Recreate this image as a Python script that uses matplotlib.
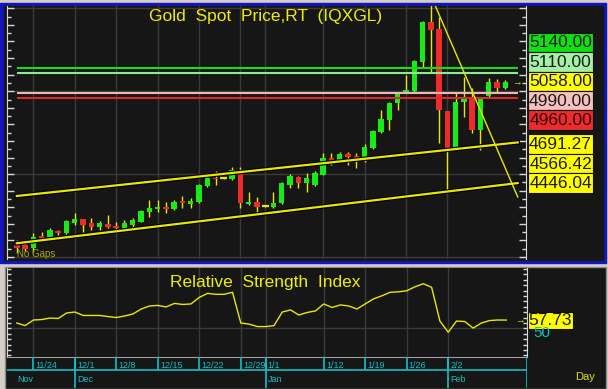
import matplotlib
matplotlib.use("Agg")
import matplotlib.pyplot as plt
from matplotlib.patches import Rectangle
from matplotlib.ticker import MultipleLocator
import matplotlib.patheffects as pe
import numpy as np
import pandas as pd

plt.rcParams['font.family'] = ['Liberation Sans', 'DejaVu Sans']

# ---------------- data ----------------
dates = pd.bdate_range("2025-11-20", periods=60)
opens = [4073, 4073, 4055, 4127, 4121, 4157, 4145, 4205, 4229, 4205,
         4181, 4199, 4187, 4175, 4193, 4211, 4272, 4290, 4302, 4290,
         4338, 4320, 4332, 4428, 4477, 4477, 4471, 4519, 4320, 4332,
         4308, 4302, 4326, 4434, 4483, 4446, 4434, 4495, 4597, 4579,
         4621, 4609, 4585, 4658, 4754, 4826, 4929, 4989, 5001, 5176,
         5417, 5375, 4881, 4658, 4935, 4965, 4766, 4971, 5056, 5019]
highs = [4103, 4085, 4145, 4151, 4175, 4163, 4223, 4266, 4232, 4235,
         4217, 4254, 4211, 4223, 4235, 4284, 4344, 4344, 4332, 4344,
         4368, 4356, 4440, 4489, 4519, 4483, 4543, 4543, 4392, 4362,
         4314, 4392, 4453, 4501, 4489, 4507, 4519, 4627, 4627, 4633,
         4633, 4627, 4682, 4766, 4887, 4935, 4989, 5098, 5188, 5423,
         5590, 5447, 4881, 4989, 5086, 5019, 4965, 5080, 5074, 5068]
lows = [4024, 4037, 4030, 4103, 4115, 4133, 4139, 4193, 4151, 4163,
        4163, 4175, 4163, 4163, 4163, 4211, 4242, 4272, 4266, 4284,
        4296, 4296, 4326, 4422, 4434, 4471, 4465, 4296, 4314, 4266,
        4302, 4296, 4320, 4416, 4416, 4392, 4428, 4495, 4555, 4573,
        4555, 4537, 4573, 4652, 4748, 4766, 4887, 4989, 4995, 5146,
        5110, 4688, 4392, 4646, 4845, 4748, 4646, 4965, 4989, 5013]
closes = [4055, 4049, 4121, 4115, 4163, 4145, 4217, 4229, 4193, 4181,
          4205, 4181, 4175, 4205, 4223, 4278, 4296, 4302, 4290, 4332,
          4326, 4338, 4434, 4477, 4471, 4477, 4525, 4326, 4332, 4302,
          4308, 4326, 4446, 4489, 4446, 4477, 4507, 4597, 4567, 4621,
          4603, 4591, 4664, 4760, 4832, 4929, 4989, 5007, 5182, 5417,
          5369, 4887, 4646, 4935, 4965, 4766, 4965, 5056, 5019, 5058]
rsi = [55.0, 52.6, 57.8, 58.2, 59.6, 59.2, 64.3, 65.2, 62.0, 62.0,
       62.0, 61.0, 60.1, 61.5, 63.4, 68.0, 70.8, 71.3, 69.9, 73.2,
       72.2, 72.7, 78.8, 82.5, 81.6, 81.6, 83.5, 55.0, 54.0, 51.7,
       51.7, 52.6, 65.2, 67.1, 62.4, 64.8, 66.2, 72.7, 69.4, 71.8,
       70.8, 68.0, 72.7, 77.4, 80.2, 83.5, 83.9, 84.9, 88.6, 91.4,
       88.1, 56.8, 46.5, 56.8, 56.4, 50.3, 55.0, 57.3, 57.8, 57.73]

level_values = [5140.00, 5110.00, 4990.00, 4960.00]
level_colors = ["#10e010", "#90e890", "#f2b6b6", "#e02828"]
label_values = [5140.00, 5110.00, 5058.00, 4990.00, 4960.00, 4691.27, 4566.42, 4446.04]
label_colors = ["#10e010", "#a4f0a4", "#ffff00", "#f6c0c0", "#ea2c2c", "#ffff00", "#ffff00", "#ffff00"]
channel_x = [0, 60.5]
channel_upper = [4368, 4691.27]
channel_lower = [4083, 4446.04]
trend_x = [50, 60.5]
trend_y = [5578, 4362]
tick_dates = ["2025-11-24", "2025-12-01", "2025-12-08", "2025-12-15", "2025-12-22",
              "2025-12-29", "2026-01-01", "2026-01-12", "2026-01-19", "2026-01-26", "2026-02-02"]
month_dates = ["2025-11-20", "2025-12-01", "2026-01-01", "2026-02-02"]
month_names = ["Nov", "Dec", "Jan", "Feb"]
rsi_ref = 50
price_grid = [4000, 4500, 5000, 5500]
title = "Gold  Spot  Price,RT  (IQXGL)"
rsi_title = "Relative  Strength  Index"

# ---------------- style ----------------
W, H = 608, 389
BLACK = "#161616"
BLUE = "#1414c0"
GRID = "#3a3a3a"
YEL = "#e8e800"
GREEN = "#18ec18"
RED = "#f02a2a"
CYAN = "#10c0c8"
AXC = "#d8d8d8"

fig = plt.figure(figsize=(W / 100, H / 100), dpi=100)
fig.patch.set_facecolor("#d4d0c8")


def pax(x0, y0, x1, y1):
    return fig.add_axes([x0 / W, 1 - y1 / H, (x1 - x0) / W, (y1 - y0) / H])


bg = pax(0, 0, W, H)
bg.set_xlim(0, W); bg.set_ylim(H, 0); bg.axis("off")
bg.add_patch(Rectangle((0, 3), 606, 260, color=BLUE))
bg.add_patch(Rectangle((4, 6), 599, 254, color=BLACK))
bg.add_patch(Rectangle((5, 266.5), 600.5, 122, facecolor=BLACK, edgecolor="#8c8c8c", lw=1))

idx = np.arange(len(dates))
xlim = ((7 - 16.8) / 8.28, (526 - 16.8) / 8.28)
tick_idx = [dates.get_loc(pd.Timestamp(d)) for d in tick_dates]
month_idx = [dates.get_loc(pd.Timestamp(d)) for d in month_dates]

# ---------------- price panel ----------------
ax = pax(7, 6, 526, 259)
ax.set_facecolor(BLACK)
ax.set_xlim(*xlim)
ax.set_ylim(3988, 5514)
for s in ["top", "bottom"]:
    ax.spines[s].set_visible(False)
for s in ["left", "right"]:
    ax.spines[s].set_color(AXC)
ax.yaxis.set_major_locator(MultipleLocator(100))
ax.yaxis.set_minor_locator(MultipleLocator(50))
ax.tick_params(axis="y", which="both", direction="in", left=True, right=True,
               labelleft=False, labelright=False, colors=AXC, width=1)
ax.tick_params(axis="y", which="major", length=5)
ax.tick_params(axis="y", which="minor", length=3)
ax.set_xticks(tick_idx)
ax.tick_params(axis="x", length=0, labelbottom=False)
ax.grid(axis="x", color=GRID, lw=1)
for g in price_grid:
    ax.axhline(g, color=GRID, lw=1, zorder=0.5)

o = np.array(opens, float); c = np.array(closes, float)
hi = np.array(highs, float); lo = np.array(lows, float)
ax.vlines(idx, lo, hi, color=YEL, lw=1.0, zorder=2)
up = c > o
dn = c < o
dj = c == o
ax.bar(idx[up], (c - o)[up], bottom=o[up], width=0.66, color=GREEN, zorder=3, lw=0)
ax.bar(idx[dn], (o - c)[dn], bottom=c[dn], width=0.66, color=RED, zorder=3, lw=0)
ax.hlines(c[dj], idx[dj] - 0.4, idx[dj] + 0.4, color=YEL, lw=1.6, zorder=3)

for v, col in zip(level_values, level_colors):
    ax.plot(channel_x, [v, v], color=col, lw=1.5, zorder=4, solid_capstyle="butt")

stroke = [pe.Stroke(linewidth=3.2, foreground="black"), pe.Normal()]
ax.plot(channel_x, channel_upper, color=YEL, lw=1.6, zorder=4, path_effects=stroke)
ax.plot(channel_x, channel_lower, color=YEL, lw=1.6, zorder=4, path_effects=stroke)
ax.plot(trend_x, trend_y, color=YEL, lw=1.0, zorder=4)

# ---------------- RSI panel ----------------
ar = pax(7, 268, 527, 357)
ar.set_facecolor(BLACK)
ar.set_xlim(*xlim)
ar.set_ylim(23.5, 106)
ar.spines["top"].set_visible(False)
ar.spines["bottom"].set_color("#a0a0a0")
for s in ["left", "right"]:
    ar.spines[s].set_color(AXC)
ar.yaxis.set_major_locator(MultipleLocator(5))
ar.tick_params(axis="y", which="both", direction="in", left=True, right=True,
               labelleft=False, labelright=False, colors=AXC, length=3, width=1)
ar.set_xticks(tick_idx)
ar.tick_params(axis="x", length=0, labelbottom=False)
ar.grid(axis="x", color=GRID, lw=1)
ar.axhline(rsi_ref, color=GRID, lw=1, zorder=0.5)
ar.plot(idx, rsi, color=YEL, lw=1.0, zorder=3)

# ---------------- date axis ----------------
ad = pax(7, 357, 527, 388)
ad.set_xlim(*xlim)
ad.set_ylim(388, 357)
ad.axis("off")
ad.vlines(tick_idx, 357, 370, color=CYAN, lw=1.2)
ad.vlines(month_idx[1:], 357, 388, color=CYAN, lw=1.2)
ad.plot([0, 1], [(388 - 370) / 31] * 2, color=CYAN, lw=1.2, transform=ad.transAxes)
ad.plot([1, 1], [0, 1], color=CYAN, lw=1.2, transform=ad.transAxes)
for ti, td in zip(tick_idx, tick_dates):
    t = pd.Timestamp(td)
    ad.text(ti + 0.25, 365, f"{t.month}/{t.day}", color=CYAN, fontsize=6.5,
            ha="left", va="center")
for mi, mn in zip(month_idx, month_names):
    ad.text(mi + 0.25 if mi > 0 else mi, 379, mn, color=CYAN, fontsize=6.5,
            ha="left", va="center")

# ---------------- overlay texts / labels ----------------
ov = pax(0, 0, W, H)
ov.set_xlim(0, W); ov.set_ylim(H, 0); ov.axis("off")
ov.set_zorder(20)
ov.patch.set_alpha(0)

ov.text(265.5, 16, title, color="#eeee00", fontsize=12.5, ha="center", va="center")
ov.text(265, 283, rsi_title, color="#eeee00", fontsize=12.5, ha="center", va="center")
ov.text(17, 254, "No Gaps", color="#a8a800", fontsize=7, ha="left", va="center")
ov.text(585, 377, "Day", color="#e0e000", fontsize=8, ha="center", va="center")

box_tops = [32.7, 52.1, 71.5, 90.9, 110.3, 134.0, 153.7, 173.4]
box_h = [19.4] * 5 + [19.7] * 3
for v, col, top, h in zip(label_values, label_colors, box_tops, box_h):
    ov.add_patch(Rectangle((528, top), 65, h, facecolor=col, edgecolor="#101010", lw=0.8))
    tcol = "#3a0000" if col == "#ea2c2c" else "#1a1a1a"
    ov.text(560.5, top + h / 2 + 0.5, f"{v:.2f}", color=tcol, fontsize=12.5,
            ha="center", va="center")
ov.text(517, 82, "\u2192", color=YEL, fontsize=7, ha="center", va="center")

ov.text(533, 333, f"{rsi_ref}", color=CYAN, fontsize=11, ha="left", va="center")
ov.add_patch(Rectangle((528, 311.7), 45, 16.8, facecolor="#ffff00", edgecolor="#101010", lw=0.8))
ov.text(550.5, 320.5, f"{rsi[-1]:.2f}", color="#1a1a1a", fontsize=12.5, ha="center", va="center")
ov.text(520, 320, "\u2192", color=YEL, fontsize=7, ha="center", va="center")

fig.savefig("out.png", dpi=100, facecolor=fig.get_facecolor())
